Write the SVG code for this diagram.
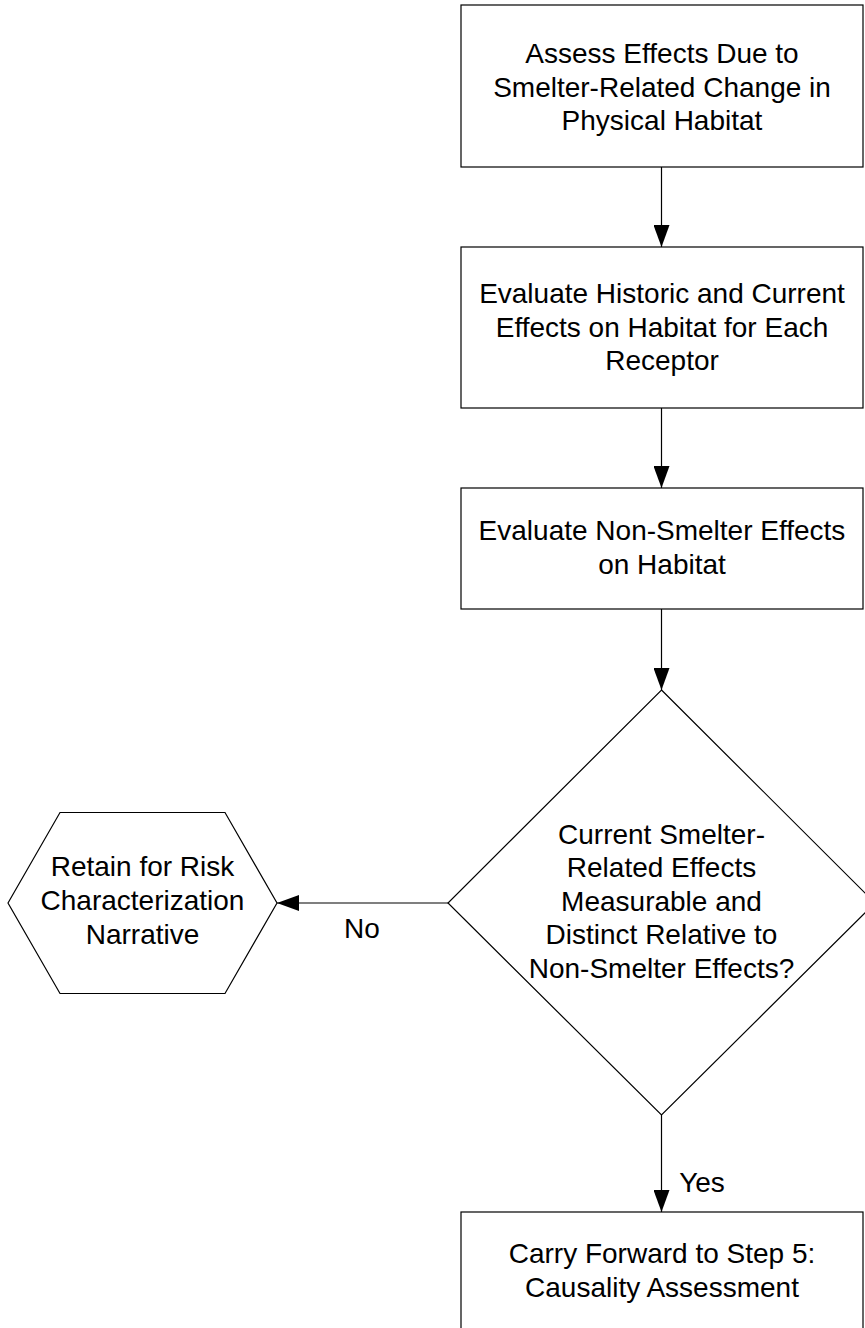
<svg xmlns="http://www.w3.org/2000/svg" width="865" height="1328" viewBox="0 0 865 1328">
<style>
.shape{fill:#fff;stroke:#000;stroke-width:1.2}
.t{font-family:"Liberation Sans",Arial,sans-serif;font-size:28px;fill:#000;text-anchor:middle}
.c{stroke:#000;stroke-width:1.2;fill:none}
</style>
<defs>
<marker id="ah" markerUnits="userSpaceOnUse" markerWidth="22" markerHeight="16" refX="22" refY="8" orient="auto">
<path d="M0,0 L22,8 L0,16 Z" fill="#000"/>
</marker>
</defs>
<rect width="865" height="1328" fill="#fff"/>
<g id="connectors">
<line class="c" x1="661.5" y1="167" x2="661.5" y2="247" marker-end="url(#ah)"/>
<line class="c" x1="661.5" y1="408" x2="661.5" y2="488" marker-end="url(#ah)"/>
<line class="c" x1="661.5" y1="609" x2="661.5" y2="690" marker-end="url(#ah)"/>
<line class="c" x1="448" y1="903" x2="277" y2="903" marker-end="url(#ah)"/>
<line class="c" x1="661.5" y1="1115" x2="661.5" y2="1212" marker-end="url(#ah)"/>
<text class="t" x="362" y="938">No</text>
<text class="t" x="702" y="1192">Yes</text>
</g>
<g id="n1">
<rect class="shape" x="461" y="5" width="402" height="162"/>
<text class="t" x="662" y="63">Assess Effects Due to</text>
<text class="t" x="662" y="96.5">Smelter-Related Change in</text>
<text class="t" x="662" y="130">Physical Habitat</text>
</g>
<g id="n2">
<rect class="shape" x="461" y="247" width="402" height="161"/>
<text class="t" x="662" y="303">Evaluate Historic and Current</text>
<text class="t" x="662" y="336.5">Effects on Habitat for Each</text>
<text class="t" x="662" y="370">Receptor</text>
</g>
<g id="n3">
<rect class="shape" x="461" y="488" width="402" height="121"/>
<text class="t" x="662" y="540">Evaluate Non-Smelter Effects</text>
<text class="t" x="662" y="574">on Habitat</text>
</g>
<g id="n4">
<polygon class="shape" points="661.5,690 875,903 661.5,1115 448,903"/>
<text class="t" x="661.5" y="843.5">Current Smelter-</text>
<text class="t" x="661.5" y="877">Related Effects</text>
<text class="t" x="661.5" y="910.5">Measurable and</text>
<text class="t" x="661.5" y="944">Distinct Relative to</text>
<text class="t" x="661.5" y="977.5">Non-Smelter Effects?</text>
</g>
<g id="n5">
<polygon class="shape" points="8,903 60,812.5 225,812.5 277,903 225,993.5 60,993.5"/>
<text class="t" x="142.5" y="876">Retain for Risk</text>
<text class="t" x="142.5" y="910">Characterization</text>
<text class="t" x="142.5" y="944">Narrative</text>
</g>
<g id="n6">
<rect class="shape" x="461" y="1212" width="402" height="130"/>
<text class="t" x="662" y="1263">Carry Forward to Step 5:</text>
<text class="t" x="662" y="1297">Causality Assessment</text>
</g>
</svg>
